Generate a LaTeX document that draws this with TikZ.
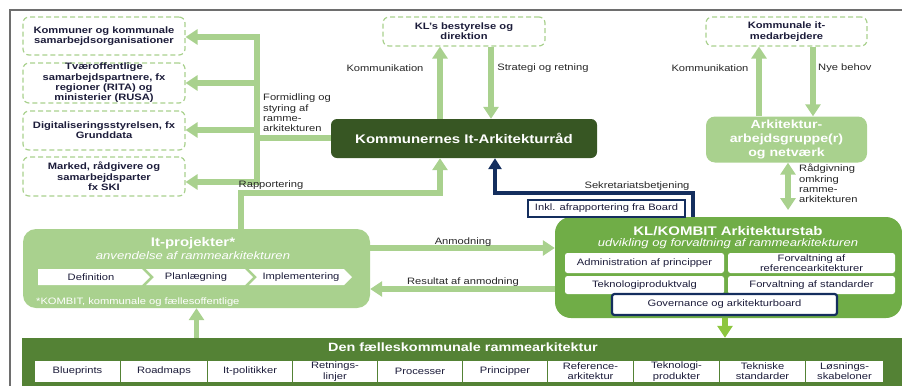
\documentclass[tikz,border=0pt]{standalone}
\usepackage{fontspec}
\setmainfont[FakeStretch=1.2]{Liberation Sans}
\usetikzlibrary{arrows.meta}
\definecolor{lg}{HTML}{A9D18E}
\definecolor{mg}{HTML}{70AD47}
\definecolor{dg}{HTML}{375623}
\definecolor{bg}{HTML}{548235}
\definecolor{ag}{HTML}{8DC63F}
\definecolor{navy}{HTML}{142E5E}
\definecolor{txtc}{HTML}{1C1C3A}
\definecolor{lblc}{HTML}{262626}
\definecolor{framec}{HTML}{6E6E6E}
\newcommand\fsn{\fontsize{9.3}{10.3}\selectfont}
\newcommand\fst{\fontsize{12.5}{14}\selectfont}
\newcommand\fss{\fontsize{10.9}{12}\selectfont}
\newcommand\fsa{\fontsize{11.8}{14}\selectfont}
\begin{document}
\begin{tikzpicture}[x=1pt,y=-1pt,
  dbox/.style={draw=lg, dash pattern=on 5pt off 3pt, line width=1.2pt, rounded corners=6pt, fill=white, font=\fsn\bfseries, text=txtc, align=center, inner sep=0pt},
  lbl/.style={font=\fsn, text=lblc, inner sep=0pt},
  gline/.style={draw=lg, line width=5.5pt},
  garrow/.style={draw=lg, line width=5.5pt, -{Triangle[width=15pt,length=12pt]}},
  gdarrow/.style={draw=lg, line width=5.5pt, {Triangle[width=15pt,length=12pt]}-{Triangle[width=15pt,length=12pt]}},
  narrow/.style={draw=navy, line width=4pt, -{Triangle[width=13pt,length=11pt]}},
  wbox/.style={fill=white, rounded corners=2.5pt, font=\fsn, text=txtc, align=center, inner sep=0pt},
  bbox/.style={fill=white, font=\fsn, text=txtc, align=center, inner sep=0pt},
  wtext/.style={text=white, inner sep=0pt}
]
\useasboundingbox (0,0) rectangle (902,386);
\draw[line width=1.5pt, draw=framec] (902,10) -- (10,10) -- (10,386);

% left dashed boxes
\node[dbox, minimum width=162pt, minimum height=38pt] (k1) at (104,36) {Kommuner og kommunale\\samarbejdsorganisationer};
\node[dbox, minimum width=162pt, minimum height=40pt] (k2) at (104,83) {Tværoffentlige\\samarbejdspartnere, fx\\regioner (RITA) og\\ministerier (RUSA)};
\node[dbox, minimum width=162pt, minimum height=39pt] (k3) at (104,130.5) {Digitaliseringsstyrelsen, fx\\Grunddata};
\node[dbox, minimum width=162pt, minimum height=39pt] (k4) at (104,176.5) {Marked, rådgivere og\\samarbejdsparter\\fx SKI};

% top dashed boxes
\node[dbox, minimum width=162pt, minimum height=29pt] (kl) at (464,31.5) {KL's bestyrelse og\\direktion};
\node[dbox, minimum width=161pt, minimum height=29pt] (kim) at (786.5,31.5) {Kommunale it-\\medarbejdere};

% council
\node[fill=dg, rounded corners=6pt, minimum width=266pt, minimum height=39pt, text=white, font=\fst\bfseries, inner sep=0pt] (council) at (464,138.5) {Kommunernes It-Arkitekturråd};

% arkitektur group
\node[fill=lg, rounded corners=9pt, minimum width=161pt, minimum height=46pt, text=white, font=\fsa\bfseries, align=center, inner sep=0pt] (ark) at (786.5,139.5) {Arkitektur-\\arbejdsgruppe(r)\\og netværk};

% It-projekter
\node[fill=lg, rounded corners=13pt, minimum width=347pt, minimum height=79pt] (itp) at (196.5,268.5) {};
\node[wtext, font=\fst\bfseries] (itpt) at (193,243) {It-projekter*};
\node[wtext, font=\fss\itshape] (itps) at (193,256) {anvendelse af rammearkitekturen};
\fill[white] (38,269) -- (142,269) -- (150,277) -- (142,285) -- (38,285) -- cycle;
\fill[white] (146,269) -- (245,269) -- (253,277) -- (245,285) -- (146,285) -- (154,277) -- cycle;
\fill[white] (249,269) -- (344,269) -- (352,277) -- (344,285) -- (249,285) -- (257,277) -- cycle;
\node[lbl, text=txtc] (ch1) at (91,277) {Definition};
\node[lbl, text=txtc] (ch2) at (196,277) {Planlægning};
\node[lbl, text=txtc] (ch3) at (301,277) {Implementering};
\node[wtext, font=\fsn, anchor=west] (itpf) at (36,302) {*KOMBIT, kommunale og fællesoffentlige};

% KL/KOMBIT
\node[fill=mg, rounded corners=16pt, minimum width=347pt, minimum height=101pt] (klk) at (728.5,267.5) {};
\node[wtext, font=\fst\bfseries] (klkt) at (728,231.5) {KL/KOMBIT Arkitekturstab};
\node[wtext, font=\fss\itshape] (klks) at (728,244) {udvikling og forvaltning af rammearkitekturen};
\node[wbox, minimum width=159pt, minimum height=20pt] (ap) at (644.5,263) {Administration af principper};
\node[wbox, minimum width=167pt, minimum height=20pt, font=\fontsize{9.3}{10}\selectfont] (fr) at (811.5,263) {Forvaltning af\\referencearkitekturer};
\node[wbox, minimum width=159pt, minimum height=18pt] (tp) at (644.5,285) {Teknologiproduktvalg};
\node[wbox, minimum width=167pt, minimum height=18pt] (fs) at (811.5,285) {Forvaltning af standarder};
\node[wbox, draw=navy, line width=2.2pt, minimum width=225pt, minimum height=21pt] (gov) at (724.5,304.5) {Governance og arkitekturboard};

% bottom band
\node[fill=bg, minimum width=880pt, minimum height=48pt, inner sep=0pt] (band) at (462,362) {};
\node[wtext, font=\fontsize{12}{14}\selectfont\bfseries] (bandt) at (463,347.5) {Den fælleskommunale rammearkitektur};
\foreach \c/\w/\t [count=\i] in {77.5/85/Blueprints, 164/86/Roadmaps, 250/84/It-politikker, 335/84/{Retnings-\\linjer}, 420/84/Processer, 505/84/Principper, 590.5/85/{Reference-\\arkitektur}, 676.5/85/{Teknologi-\\produkter}, 762.5/85/{Tekniske\\standarder}, 844.5/77/{Løsnings-\\skabeloner}}
  \node[bbox, minimum width=\w pt, minimum height=21pt] (bb\i) at (\c,371.5) {\t};

% left bus
\coordinate (b1) at (257,37);
\coordinate (b2) at (257,83);
\coordinate (b3) at (257,130);
\coordinate (b4) at (257,182);
\coordinate (bc) at (257,138);
\draw[gline, line cap=rect] (b1) -- (b4);
\draw[garrow] (b1) -- (b1 -| k1.east);
\draw[garrow] (b2) -- (b2 -| k2.east);
\draw[garrow] (b3) -- (b3 -| k3.east);
\draw[garrow] (b4) -- (b4 -| k4.east);
\draw[gline] (bc) -- (bc -| council.west);
\node[lbl, anchor=north west, align=left] (lform) at (263,94) {Formidling og\\styring af\\ramme-\\arkitekturen};

% council <-> KL
\draw[garrow] ([xshift=-24pt]council.north) -- ([xshift=-24pt]kl.south);
\draw[garrow] ([xshift=27pt]kl.south) -- ([xshift=27pt]council.north);
\node[lbl] (lk1) at (385,68) {Kommunikation};
\node[lbl] (ls1) at (543,68) {Strategi og retning};

% Rapportering
\coordinate (rp) at (241,193);
\draw[garrow] (rp |- itp.north) -- (rp) -| ([xshift=-24pt]council.south);
\node[lbl] (lr) at (271,185) {Rapportering};

% Sekretariatsbetjening
\coordinate (sk) at (693,193);
\draw[narrow] (sk |- klk.north) -- (sk) -| ([xshift=31pt]council.south);
\node[lbl] (lsek) at (637,186.5) {Sekretariatsbetjening};
\node[draw=navy, line width=1.8pt, fill=white, minimum width=157pt, minimum height=17pt, inner sep=0pt, font=\fsn, text=txtc] (inkl) at (606.5,208.5) {Inkl. afrapportering fra Board};

% Anmodning / Resultat
\coordinate (ya) at (0,248);
\coordinate (yr) at (0,289);
\draw[garrow] (ya -| itp.east) -- (ya -| klk.west);
\draw[garrow] (yr -| klk.west) -- (yr -| itp.east);
\node[lbl] (lan) at (463,242) {Anmodning};
\node[lbl] (lres) at (463,282) {Resultat af anmodning};

% band -> It-projekter, KL/KOMBIT -> band
\draw[garrow] (band.north -| itp.south) -- (itp.south);
\coordinate (dk) at (725,0);
\draw[garrow, draw=ag] (dk |- klk.south) -- (dk |- band.north);

% top right
\draw[garrow] ([xshift=-27.5pt]ark.north) -- ([xshift=-27.5pt]kim.south);
\draw[garrow] ([xshift=26.5pt]kim.south) -- ([xshift=26.5pt]ark.north);
\node[lbl] (lk2) at (710,68) {Kommunikation};
\node[lbl, anchor=west] (lnb) at (818,68) {Nye behov};

\coordinate (dd) at (788,210);
\draw[gdarrow] (dd |- ark.south) -- (dd);
\node[lbl, anchor=north west, align=left] (lrad) at (799,164) {Rådgivning\\omkring\\ramme-\\arkitekturen};
\end{tikzpicture}
\end{document}
